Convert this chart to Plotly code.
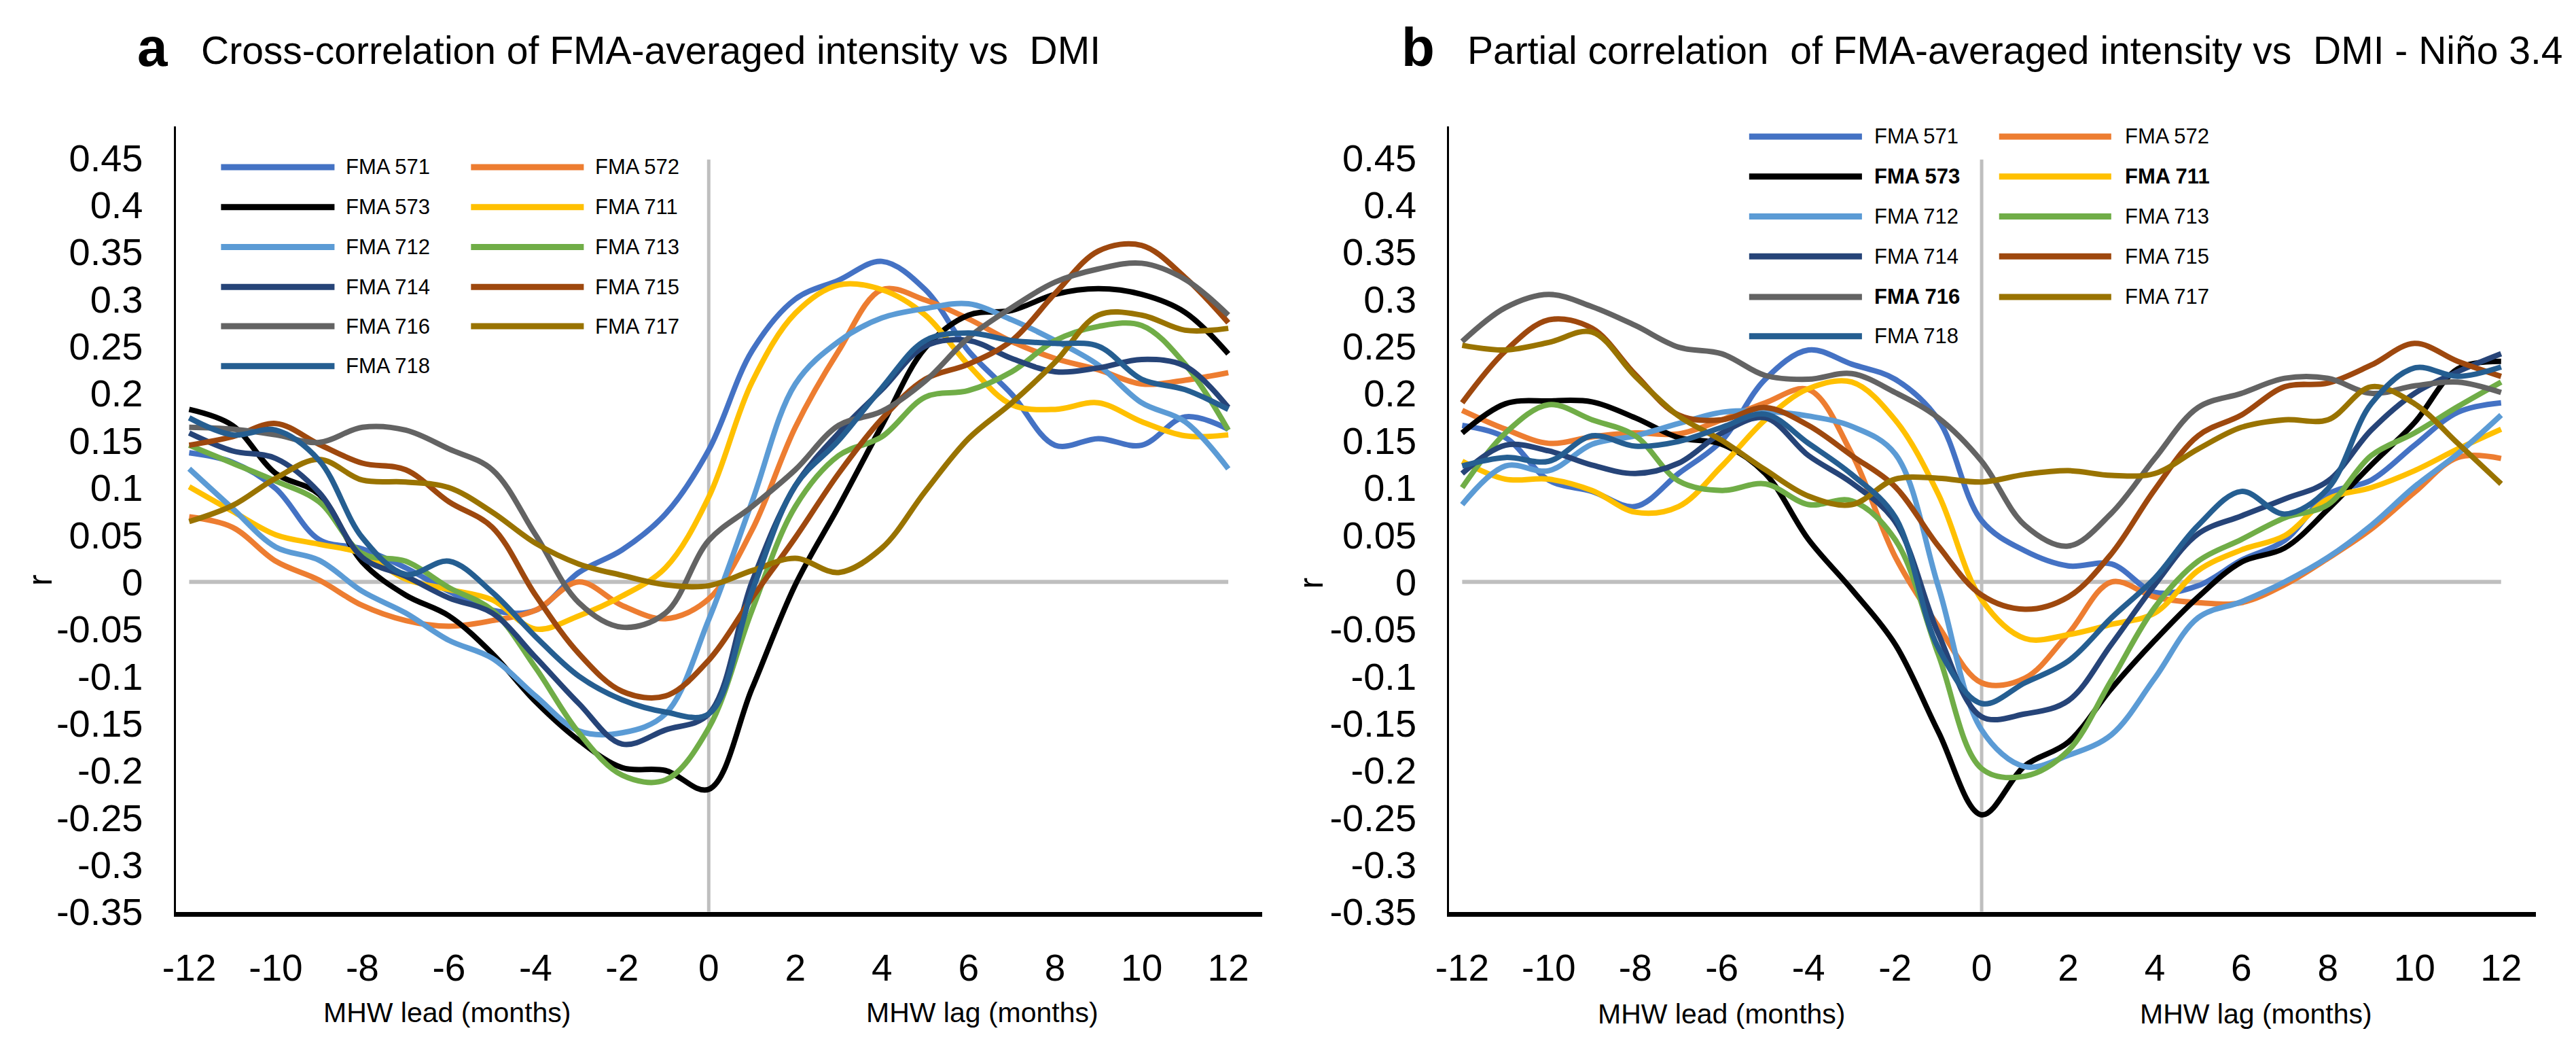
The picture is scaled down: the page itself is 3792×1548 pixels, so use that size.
import plotly.graph_objects as go

W, H = 3792, 1548

months = list(range(-12, 13))
tick_vals_x = list(range(-12, 13, 2))
tick_vals_y = [round(-0.35 + 0.05 * i, 2) for i in range(17)]

names = ["FMA 571", "FMA 572", "FMA 573", "FMA 711", "FMA 712", "FMA 713",
         "FMA 714", "FMA 715", "FMA 716", "FMA 717", "FMA 718"]
colors = ["#4472C4", "#ED7D31", "#000000", "#FFC000", "#5B9BD5", "#70AD47",
          "#264478", "#9E480E", "#636363", "#997300", "#255E91"]

# Panel a: cross-correlation vs DMI
a571 = [0.137, 0.127, 0.099, 0.045, 0.035, 0.015, -0.01, -0.03, -0.03, 0.01, 0.034, 0.072, 0.14,
        0.245, 0.30, 0.32, 0.34, 0.31, 0.245, 0.199, 0.145, 0.152, 0.145, 0.175, 0.162]
a572 = [0.069, 0.058, 0.022, 0.002, -0.025, -0.041, -0.047, -0.041, -0.03, 0.0, -0.025, -0.039, -0.018,
        0.055, 0.164, 0.245, 0.31, 0.299, 0.279, 0.255, 0.237, 0.225, 0.21, 0.214, 0.222]
a573 = [0.183, 0.166, 0.115, 0.093, 0.021, -0.014, -0.036, -0.076, -0.127, -0.168, -0.197, -0.2, -0.22,
        -0.113, -0.003, 0.08, 0.166, 0.248, 0.283, 0.288, 0.305, 0.311, 0.305, 0.286, 0.242]
a711 = [0.101, 0.075, 0.05, 0.04, 0.03, 0.003, -0.008, -0.019, -0.05, -0.036, -0.015, 0.015, 0.09,
        0.212, 0.285, 0.315, 0.31, 0.283, 0.23, 0.188, 0.183, 0.19, 0.17, 0.155, 0.156]
a712 = [0.12, 0.078, 0.037, 0.023, -0.01, -0.033, -0.062, -0.081, -0.121, -0.158, -0.16, -0.14, -0.04,
        0.085, 0.21, 0.255, 0.28, 0.29, 0.295, 0.278, 0.256, 0.23, 0.19, 0.17, 0.12]
a713 = [0.145, 0.126, 0.107, 0.085, 0.03, 0.022, -0.006, -0.03, -0.091, -0.16, -0.205, -0.21, -0.155,
        -0.03, 0.08, 0.134, 0.154, 0.196, 0.203, 0.223, 0.256, 0.271, 0.272, 0.231, 0.161]
a714 = [0.158, 0.139, 0.131, 0.095, 0.026, 0.006, -0.017, -0.033, -0.08, -0.129, -0.172, -0.157, -0.14,
        0.0, 0.102, 0.158, 0.204, 0.25, 0.256, 0.237, 0.223, 0.227, 0.236, 0.229, 0.185]
a715 = [0.145, 0.154, 0.168, 0.146, 0.126, 0.119, 0.085, 0.058, -0.014, -0.076, -0.116, -0.121, -0.083,
        -0.017, 0.047, 0.115, 0.173, 0.215, 0.231, 0.256, 0.306, 0.351, 0.357, 0.323, 0.275]
a716 = [0.164, 0.162, 0.156, 0.148, 0.164, 0.161, 0.141, 0.119, 0.05, -0.022, -0.048, -0.033, 0.044,
        0.08, 0.119, 0.166, 0.181, 0.213, 0.259, 0.291, 0.318, 0.332, 0.338, 0.321, 0.283]
a717 = [0.064, 0.081, 0.11, 0.13, 0.108, 0.106, 0.1, 0.074, 0.041, 0.019, 0.007, -0.003, -0.004,
        0.012, 0.025, 0.01, 0.036, 0.096, 0.152, 0.19, 0.233, 0.283, 0.283, 0.267, 0.269]
a718 = [0.174, 0.156, 0.161, 0.129, 0.047, 0.008, 0.022, -0.011, -0.058, -0.1, -0.125, -0.138, -0.14,
        -0.01, 0.102, 0.15, 0.206, 0.256, 0.264, 0.256, 0.253, 0.25, 0.215, 0.204, 0.183]

# Panel b: partial correlation vs DMI - Nino 3.4
b571 = [0.166, 0.153, 0.108, 0.096, 0.08, 0.115, 0.15, 0.215, 0.246, 0.231, 0.215, 0.172, 0.065,
        0.033, 0.017, 0.019, -0.011, -0.004, 0.023, 0.044, 0.093, 0.108, 0.145, 0.18, 0.19]
b572 = [0.182, 0.162, 0.147, 0.154, 0.158, 0.157, 0.172, 0.19, 0.204, 0.136, 0.027, -0.047, -0.107,
        -0.102, -0.055, 0.0, -0.016, -0.022, -0.022, -0.003, 0.025, 0.056, 0.095, 0.132, 0.131]
b573 = [0.158, 0.189, 0.192, 0.191, 0.174, 0.153, 0.146, 0.115, 0.045, -0.008, -0.066, -0.159, -0.247,
        -0.195, -0.17, -0.113, -0.062, -0.016, 0.021, 0.036, 0.077, 0.124, 0.169, 0.226, 0.234]
b711 = [0.128, 0.109, 0.109, 0.097, 0.074, 0.08, 0.123, 0.172, 0.205, 0.212, 0.172, 0.093, -0.019,
        -0.06, -0.056, -0.045, -0.033, 0.012, 0.034, 0.049, 0.088, 0.1, 0.118, 0.141, 0.162]
b712 = [0.082, 0.123, 0.118, 0.146, 0.155, 0.168, 0.18, 0.181, 0.176, 0.165, 0.136, -0.005, -0.157,
        -0.196, -0.184, -0.162, -0.102, -0.038, -0.021, 0.0, 0.026, 0.06, 0.101, 0.136, 0.177]
b713 = [0.1, 0.158, 0.188, 0.172, 0.155, 0.107, 0.097, 0.104, 0.082, 0.086, 0.045, -0.077, -0.198,
        -0.206, -0.179, -0.104, -0.027, 0.022, 0.045, 0.068, 0.082, 0.134, 0.158, 0.186, 0.212]
b714 = [0.115, 0.145, 0.139, 0.124, 0.115, 0.126, 0.158, 0.174, 0.134, 0.105, 0.064, -0.055, -0.143,
        -0.14, -0.126, -0.066, -0.003, 0.051, 0.07, 0.088, 0.107, 0.161, 0.2, 0.223, 0.242]
b715 = [0.19, 0.245, 0.278, 0.269, 0.22, 0.177, 0.172, 0.185, 0.166, 0.134, 0.101, 0.038, -0.014,
        -0.029, -0.016, 0.03, 0.098, 0.155, 0.177, 0.207, 0.211, 0.23, 0.253, 0.234, 0.218]
b716 = [0.255, 0.291, 0.305, 0.292, 0.272, 0.249, 0.242, 0.219, 0.215, 0.221, 0.201, 0.174, 0.128,
        0.06, 0.038, 0.073, 0.131, 0.185, 0.2, 0.216, 0.216, 0.2, 0.208, 0.212, 0.201]
b717 = [0.251, 0.246, 0.254, 0.265, 0.218, 0.176, 0.15, 0.119, 0.091, 0.082, 0.109, 0.11, 0.106,
        0.114, 0.118, 0.113, 0.115, 0.141, 0.164, 0.172, 0.172, 0.207, 0.189, 0.147, 0.104]
b718 = [0.123, 0.132, 0.128, 0.155, 0.144, 0.149, 0.164, 0.178, 0.147, 0.114, 0.069, -0.07, -0.129,
        -0.107, -0.084, -0.038, 0.004, 0.06, 0.096, 0.072, 0.099, 0.189, 0.227, 0.218, 0.228]

panel_a = [a571, a572, a573, a711, a712, a713, a714, a715, a716, a717, a718]
panel_b = [b571, b572, b573, b711, b712, b713, b714, b715, b716, b717, b718]
bold_b = {"FMA 573", "FMA 711", "FMA 716"}

title_a = "Cross-correlation of FMA-averaged intensity vs  DMI"
title_b = "Partial correlation  of FMA-averaged intensity vs  DMI - Niño 3.4"

FONT = "Liberation Sans, Arial, sans-serif"

def px(x):
    return x / W

def py(y):
    return 1 - y / H

fig = go.Figure()
for vals, nm, col in zip(panel_a, names, colors):
    fig.add_trace(go.Scatter(x=months, y=vals, mode="lines", name=nm, showlegend=False,
                             line=dict(color=col, width=8, shape="spline", smoothing=1),
                             xaxis="x", yaxis="y"))
for vals, nm, col in zip(panel_b, names, colors):
    fig.add_trace(go.Scatter(x=months, y=vals, mode="lines", name=nm, showlegend=False,
                             line=dict(color=col, width=8, shape="spline", smoothing=1),
                             xaxis="x2", yaxis="y2"))

yrange = [-0.35, 0.483]
ydom = [py(1362), py(182)]
common_x = dict(tickvals=tick_vals_x, ticktext=[str(v) for v in tick_vals_x], showgrid=False,
                zeroline=False, showline=True, linecolor="black", linewidth=7, ticks="",
                tickfont=dict(family=FONT, size=55, color="black"), ticklabelstandoff=28)
common_y = dict(range=yrange, domain=ydom, tickvals=tick_vals_y,
                ticktext=[("%g" % v) for v in tick_vals_y], showgrid=False, zeroline=False,
                showline=True, linecolor="black", linewidth=3, ticks="",
                tickfont=dict(family=FONT, size=56, color="black"), ticklabelstandoff=34)

fig.update_layout(
    width=W, height=H, margin=dict(l=0, r=0, t=0, b=0),
    paper_bgcolor="white", plot_bgcolor="white",
    xaxis=dict(domain=[px(231), px(1839)], range=[-12.31, 12.78], anchor="y", **common_x),
    yaxis=dict(anchor="x", **common_y),
    xaxis2=dict(domain=[px(2116), px(3725)], range=[-12.3, 12.81], anchor="y2", **common_x),
    yaxis2=dict(anchor="x2", **common_y),
)

shapes = []
for xr, yr in (("x", "y"), ("x2", "y2")):
    shapes.append(dict(type="line", xref=xr, yref=yr, x0=-12, x1=12, y0=0, y1=0,
                       line=dict(color="#BFBFBF", width=6), layer="below"))
    shapes.append(dict(type="line", xref=xr, yref=yr, x0=0, x1=0, y0=-0.35, y1=0.448,
                       line=dict(color="#BFBFBF", width=5), layer="below"))

annotations = []

def legend(col_lines, col_text, rows, bold=set()):
    for i in range(len(names)):
        r, c = divmod(i, 2)
        yv = rows[r]
        x0, x1 = col_lines[c]
        shapes.append(dict(type="line", xref="paper", yref="paper", x0=px(x0), x1=px(x1),
                           y0=py(yv), y1=py(yv), line=dict(color=colors[i], width=9)))
        txt = names[i]
        if txt in bold:
            txt = "<b>" + txt + "</b>"
        annotations.append(dict(x=px(col_text[c]), y=py(yv), xref="paper", yref="paper",
                                text=txt, showarrow=False, xanchor="left", yanchor="middle",
                                font=dict(family=FONT, size=31, color="black")))

legend([(298, 466), (668, 835)], [481, 850], [243, 303, 363, 423, 482, 542])
legend([(2560, 2727), (2930, 3096)], [2743, 3114], [197, 257, 317, 377, 438, 497], bold_b)

# panel letters and titles
annotations += [
    dict(x=px(197), y=py(63), text="<b>a</b>", font=dict(family=FONT, size=80, color="black")),
    dict(x=px(266), y=py(67), text=title_a, xanchor="left", font=dict(family=FONT, size=57, color="black")),
    dict(x=px(2070), y=py(63), text="<b>b</b>", font=dict(family=FONT, size=80, color="black")),
    dict(x=px(2141), y=py(67), text=title_b, xanchor="left", font=dict(family=FONT, size=57, color="black")),
    dict(x=px(30), y=py(863), text="r", textangle=-90, font=dict(family=FONT, size=50, color="black")),
    dict(x=px(1912), y=py(868), text="r", textangle=-90, font=dict(family=FONT, size=50, color="black")),
    dict(x=px(633), y=py(1513), text="MHW lead (months)", font=dict(family=FONT, size=41, color="black")),
    dict(x=px(1425), y=py(1513), text="MHW lag (months)", font=dict(family=FONT, size=41, color="black")),
    dict(x=px(2519), y=py(1515), text="MHW lead (months)", font=dict(family=FONT, size=41, color="black")),
    dict(x=px(3310), y=py(1515), text="MHW lag (months)", font=dict(family=FONT, size=41, color="black")),
]
for a in annotations:
    a.setdefault("xref", "paper")
    a.setdefault("yref", "paper")
    a.setdefault("showarrow", False)
    a.setdefault("yanchor", "middle")
    a.setdefault("xanchor", "center")

fig.update_layout(shapes=shapes, annotations=annotations)
fig.write_html("out.html")
